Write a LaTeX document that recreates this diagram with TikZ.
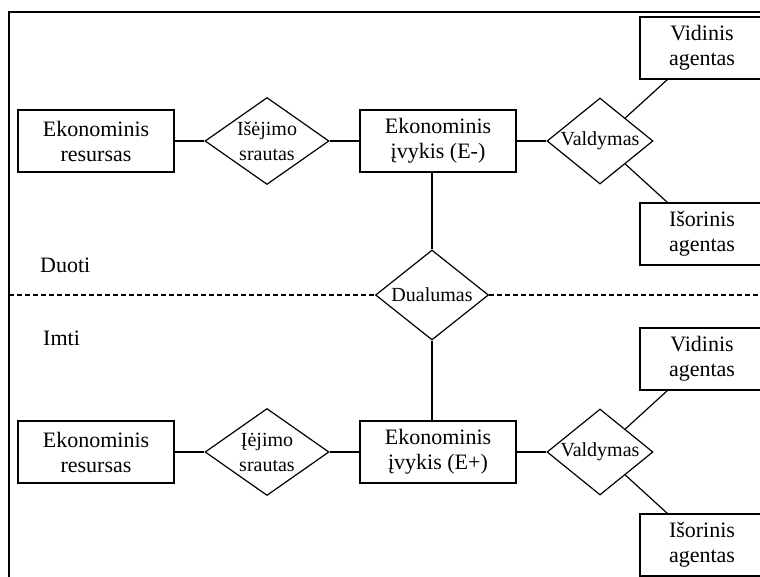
\documentclass[tikz,border=0pt]{standalone}
\usepackage{fontspec}
\setmainfont{Liberation Serif}
\usetikzlibrary{shapes.geometric}
\begin{document}
\begin{tikzpicture}[x=1pt,y=-1pt,
  ent/.style={draw, line width=1.2pt, minimum width=156pt, minimum height=62pt,
    inner sep=0pt, align=center, font=\fontsize{22}{25}\selectfont},
  agent/.style={ent, minimum width=124pt},
  rel/.style={draw, diamond, line width=1.2pt, inner sep=0pt},
  reltext/.style={font=\fontsize{20}{25}\selectfont, align=center, inner sep=0pt},
  link/.style={line width=1.2pt},
  sep/.style={line width=1.2pt, dash pattern=on 5pt off 3pt},
  side/.style={font=\fontsize{22}{25}\selectfont, anchor=base west, inner sep=0pt}
]
\useasboundingbox (0,0) rectangle (760,576);
\clip (0,0) rectangle (760,576);

% outer frame
\draw[link] (9,600) -- (9,12) -- (780,12);

% giving side
\node[ent] (res1) at (96,141) {Ekonominis\\resursas};
\node[rel, minimum width=124pt, minimum height=87pt,
  label={[reltext]center:{Išėjimo\\srautas}}] (flow1) at (267,141) {};
\node[ent] (ev1) at (438,141) {Ekonominis\\įvykis (E-)};
\node[rel, minimum width=106pt, minimum height=86pt,
  label={[reltext]center:{Valdymas}}] (val1) at (600,141) {};
\node[agent] (vid1) at (702,48) {Vidinis\\agentas};
\node[agent] (isr1) at (702,234) {Išorinis\\agentas};

% duality
\node[rel, minimum width=113pt, minimum height=90pt,
  label={[reltext]center:{Dualumas}}] (dual) at (432,295) {};
\coordinate (sepL) at (9,295);
\coordinate (sepR) at (780,295);

% taking side
\node[ent] (res2) at (96,452) {Ekonominis\\resursas};
\node[rel, minimum width=124pt, minimum height=87pt,
  label={[reltext]center:{Įėjimo\\srautas}}] (flow2) at (267,452) {};
\node[ent] (ev2) at (438,452) {Ekonominis\\įvykis (E+)};
\node[rel, minimum width=106pt, minimum height=86pt,
  label={[reltext]center:{Valdymas}}] (val2) at (600,452) {};
\node[agent] (vid2) at (702,359) {Vidinis\\agentas};
\node[agent] (isr2) at (702,545) {Išorinis\\agentas};

\node[side] (duoti) at (40,272) {Duoti};
\node[side] (imti) at (43,345) {Imti};

% connectors
\draw[link] (res1) -- (flow1);
\draw[link] (flow1) -- (ev1);
\draw[link] (ev1) -- (val1);
\draw[link] (val1) -- (vid1);
\draw[link] (val1) -- (isr1);
\draw[link] (res2) -- (flow2);
\draw[link] (flow2) -- (ev2);
\draw[link] (ev2) -- (val2);
\draw[link] (val2) -- (vid2);
\draw[link] (val2) -- (isr2);
\draw[link] (dual.north) -- (dual |- ev1.south);
\draw[link] (dual.south) -- (dual |- ev2.north);
\draw[sep] (sepL) -- (dual.west);
\draw[sep] (dual.east) -- (sepR);
\end{tikzpicture}
\end{document}
